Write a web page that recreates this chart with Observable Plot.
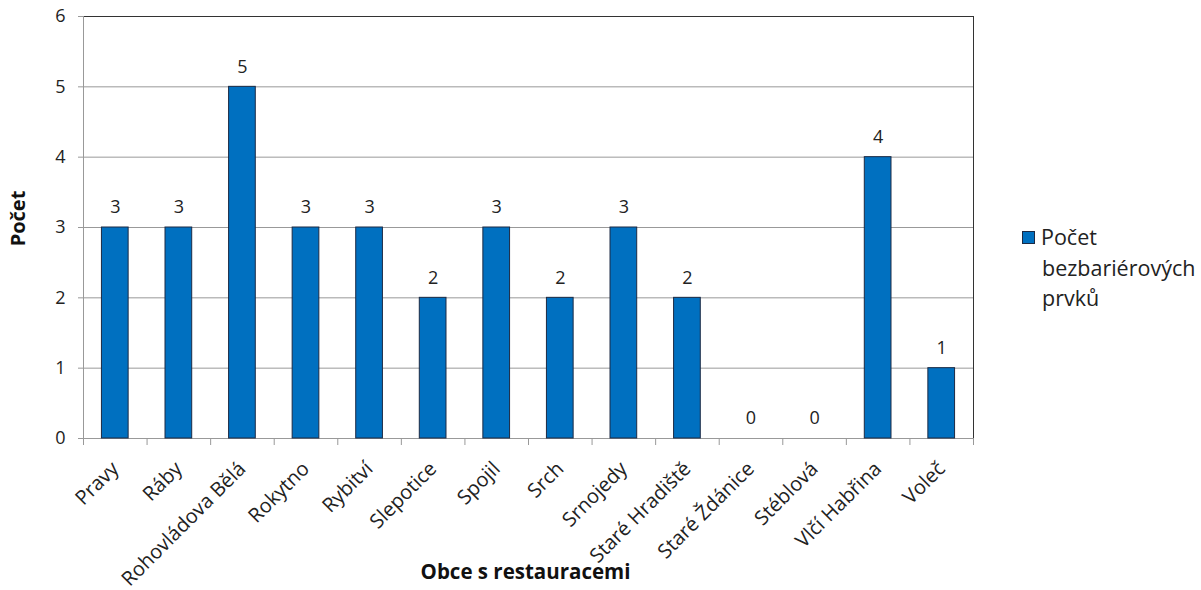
<!DOCTYPE html>
<html>
<head>
<meta charset="utf-8">
<script src="https://cdn.jsdelivr.net/npm/d3@7"></script>
<script src="https://cdn.jsdelivr.net/npm/@observablehq/plot@0.6"></script>
<style>
  html, body { margin: 0; padding: 0; background: #fff; }
  #wrap { position: relative; width: 1201px; height: 590px; font-family: "Open Sans", sans-serif; }
  #legend { position: absolute; left: 1022px; top: 222px; font-size: 21.5px; line-height: 30.5px; color: #222; }
  #legend .sw { display: inline-block; width: 11px; height: 11px; background: #0070C0; border: 1px solid #1c2a44; margin-right: 6px; vertical-align: 1px; }
  #legend .ln { padding-left: 20px; }
</style>
</head>
<body>
<div id="wrap">
  <div id="chart"></div>
  <div id="legend">
    <div><span class="sw"></span>Počet</div>
    <div class="ln">bezbariérových</div>
    <div class="ln">prvků</div>
  </div>
</div>
<script>
// Municipalities with restaurants and the count of barrier-free features
const obce = ["Pravy", "Ráby", "Rohovládova Bělá", "Rokytno", "Rybitví", "Slepotice", "Spojil", "Srch", "Srnojedy", "Staré Hradiště", "Staré Ždánice", "Stéblová", "Vlčí Habřina", "Voleč"];
const pocty = [3, 3, 5, 3, 3, 2, 3, 2, 3, 2, 0, 0, 4, 1];
const yTicks = [0, 1, 2, 3, 4, 5, 6];

const data = obce.map((obec, i) => ({obec, pocet: pocty[i]}));

const width = 1201, height = 590;
const marginLeft = 83, marginRight = 228, marginTop = 16, marginBottom = 152;
const step = (width - marginLeft - marginRight) / obce.length;

const chart = Plot.plot({
  width, height, marginLeft, marginRight, marginTop, marginBottom,
  style: {fontFamily: "Open Sans, sans-serif", fontSize: "19px", color: "#222", background: "#fff"},
  x: {domain: obce, paddingInner: 0.58, paddingOuter: 0.29, round: false, label: null},
  y: {domain: [0, 6], label: null},
  marks: [
    Plot.gridY(yTicks, {stroke: "#999", strokeOpacity: 1}),
    Plot.frame({stroke: "#333"}),
    Plot.ruleY([0], {stroke: "#999"}),
    // tick marks between categories
    Plot.axisX({ticks: obce, tickFormat: () => "", tickSize: 7, dx: -step / 2, stroke: "#999", label: null}),
    Plot.axisX({ticks: obce.slice(-1), tickFormat: () => "", tickSize: 7, dx: step / 2, stroke: "#999", label: null}),
    Plot.axisX({ticks: obce, tickSize: 0, tickRotate: -45, tickPadding: 27, fontSize: 20, fill: "#222", label: null}),
    Plot.axisY({ticks: yTicks, tickFormat: "d", tickSize: 5, tickPadding: 13, stroke: "#999", fontSize: 18, fill: "#222", label: null}),
    Plot.ruleX([obce[0]], {dx: -step / 2, stroke: "#999"}),
    Plot.barY(data, {x: "obec", y: "pocet", fill: "#0070C0", stroke: "#1c2a44", strokeWidth: 1}),
    Plot.text(data, {x: "obec", y: "pocet", text: d => String(d.pocet), dy: -20, fontSize: 18, fill: "#222"}),
    Plot.text(["Počet"], {frameAnchor: "left", textAnchor: "middle", dx: -65, dy: -9, rotate: -90, fontWeight: "bold", fontSize: 20, fill: "#111"}),
    Plot.text(["Obce s restauracemi"], {frameAnchor: "bottom", dx: -3, dy: 140, fontWeight: "bold", fontSize: 20.5, fill: "#111"})
  ]
});
document.getElementById("chart").appendChild(chart);
</script>
</body>
</html>
